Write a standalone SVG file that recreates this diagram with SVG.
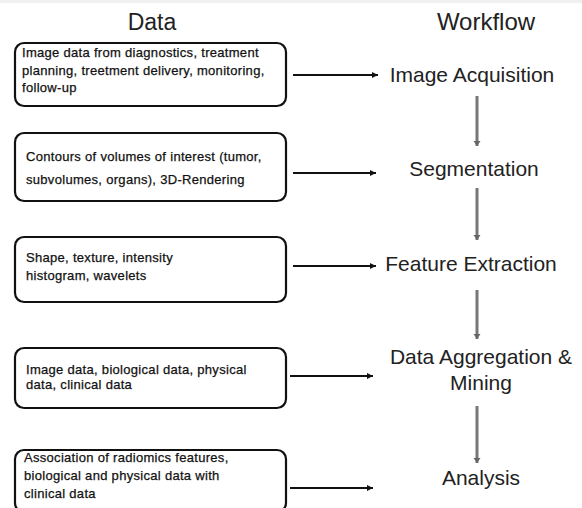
<svg xmlns="http://www.w3.org/2000/svg" width="582" height="508" viewBox="0 0 582 508">
<defs>
<marker id="ah" markerWidth="8" markerHeight="8" refX="6" refY="4" orient="auto" markerUnits="userSpaceOnUse">
<path d="M0,1 L6,4 L0,7 z" fill="#111"/>
</marker>
<marker id="ahg" markerWidth="10" markerHeight="10" refX="5" refY="5" orient="auto" markerUnits="userSpaceOnUse">
<path d="M0,1.5 L5,5 L0,8.5 z" fill="#666"/>
</marker>
<style>
.hdr{font-family:"Liberation Sans",Arial,sans-serif;font-size:23px;fill:#222;text-anchor:middle}
.wf{font-family:"Liberation Sans",Arial,sans-serif;font-size:21px;fill:#222;text-anchor:middle}
.box{fill:#fff;stroke:#111;stroke-width:2.2}
.bt{font-family:"Liberation Sans",Arial,sans-serif;font-size:13px;fill:#111;stroke:#111;stroke-width:0.25;letter-spacing:0.3px}
.h{stroke:#111;stroke-width:2;fill:none;marker-end:url(#ah)}
.v{stroke:#777;stroke-width:3;fill:none;marker-end:url(#ahg)}
</style>
</defs>
<rect width="582" height="508" fill="#fff"/>
<rect x="0" y="0" width="582" height="3" fill="#f0f0f0"/>
<g id="headers">
<text class="hdr" x="152" y="30">Data</text>
<text class="hdr" x="486" y="30" style="font-size:24px">Workflow</text>
</g>
<g id="data1">
<rect class="box" x="15" y="43" width="271" height="63" rx="9"/>
<text class="bt" x="22" y="57">Image data from diagnostics, treatment</text>
<text class="bt" x="22" y="75">planning, treetment delivery, monitoring,</text>
<text class="bt" x="22" y="92">follow-up</text>
</g>
<g id="data2">
<rect class="box" x="15" y="133" width="271" height="68" rx="9"/>
<text class="bt" x="26" y="161">Contours of volumes of interest (tumor,</text>
<text class="bt" x="26" y="184">subvolumes, organs), 3D-Rendering</text>
</g>
<g id="data3">
<rect class="box" x="15" y="237" width="271" height="65" rx="9"/>
<text class="bt" x="26" y="262">Shape, texture, intensity</text>
<text class="bt" x="26" y="280">histogram, wavelets</text>
</g>
<g id="data4">
<rect class="box" x="15" y="348" width="271" height="60" rx="9"/>
<text class="bt" x="26" y="374">Image data, biological data, physical</text>
<text class="bt" x="26" y="389">data, clinical data</text>
</g>
<g id="data5">
<rect class="box" x="15" y="450" width="271" height="62" rx="9"/>
<text class="bt" x="24" y="462">Association of radiomics  features,</text>
<text class="bt" x="24" y="480">biological and physical data with</text>
<text class="bt" x="24" y="498">clinical data</text>
</g>
<g id="wf1"><text class="wf" x="472" y="82">Image Acquisition</text></g>
<g id="wf2"><text class="wf" x="474" y="176">Segmentation</text></g>
<g id="wf3"><text class="wf" x="471" y="271">Feature Extraction</text></g>
<g id="wf4"><text class="wf" x="481" y="364">Data Aggregation &amp;</text><text class="wf" x="481" y="390">Mining</text></g>
<g id="wf5"><text class="wf" x="481" y="485">Analysis</text></g>
<g id="connectors">
<line class="h" x1="293" y1="75" x2="378" y2="75"/>
<line class="h" x1="293" y1="173" x2="376" y2="173"/>
<line class="h" x1="293" y1="266" x2="376" y2="266"/>
<line class="h" x1="290" y1="376" x2="373" y2="376"/>
<line class="h" x1="290" y1="488" x2="373" y2="488"/>
<line class="v" x1="477" y1="96" x2="477" y2="146"/>
<line class="v" x1="477" y1="188" x2="477" y2="240"/>
<line class="v" x1="477" y1="290" x2="477" y2="339"/>
<line class="v" x1="477" y1="406" x2="477" y2="463"/>
</g>
</svg>
